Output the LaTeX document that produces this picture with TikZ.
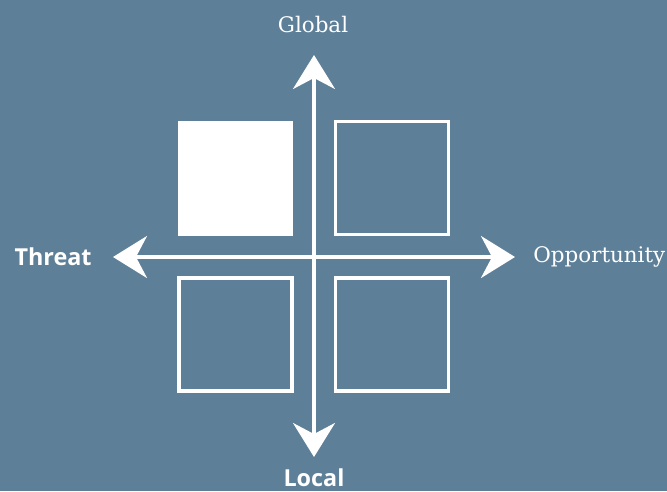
\documentclass[tikz,border=0pt]{standalone}
\usepackage{fontspec}
\usepackage{tikz}
\usetikzlibrary{arrows.meta}
\newfontfamily\axisserif{DejaVu Serif}
\newfontfamily\axissans{Open Sans}
\definecolor{slate}{RGB}{94,127,152}

\begin{document}
\begin{tikzpicture}[x=0.02cm,y=-0.02cm,
  axis/.style={draw=white,line width=0.065cm,
    {Stealth[length=0.68cm,width=0.84cm,inset=0.22cm]}-{Stealth[length=0.68cm,width=0.84cm,inset=0.22cm]}},
  quad/.style={draw=white,line width=0.065cm,minimum width=2.26cm,minimum height=2.26cm,inner sep=0pt},
  quadfill/.style={fill=white,minimum width=2.3cm,minimum height=2.3cm,inner sep=0pt},
  soft/.style={text=white,font=\axisserif\fontsize{12.2}{14}\selectfont},
  strong/.style={text=white,font=\axissans\bfseries\fontsize{13.3}{15}\selectfont}]
%background
\fill[slate] (0,0) rectangle (667,491);
\useasboundingbox (0,0) rectangle (667,491);
%quadrants
\node[quadfill] (tl) at (235.5,178.5) {};
\node[quad] (tr) at (392,178) {};
\node[quad] (bl) at (235.5,334.5) {};
\node[quad] (br) at (392,334.5) {};
%axis ends
\coordinate (top) at (314,55);
\coordinate (bottom) at (314,457);
\coordinate (left) at (113,257);
\coordinate (right) at (515,257);
\draw[axis] (left) -- (right);
\draw[axis] (bottom) -- (top);
%labels
\node[soft] (global) at (313,25) {Global};
\node[strong] (local) at (314,478) {Local};
\node[strong,anchor=east,inner sep=0pt] (threat) at (92,257) {Threat};
\node[soft,anchor=west,inner sep=0pt] (opp) at (533,257) {Opportunity};
\end{tikzpicture}
\end{document}
